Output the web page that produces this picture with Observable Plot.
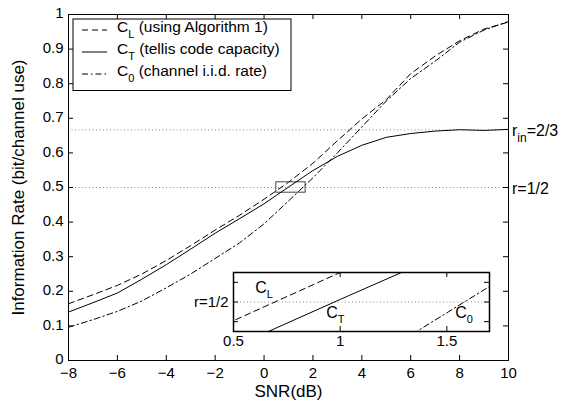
<!DOCTYPE html>
<html><head><meta charset="utf-8">
<script src="https://cdn.jsdelivr.net/npm/d3@7"></script>
<script src="https://cdn.jsdelivr.net/npm/@observablehq/plot@0.6"></script>
<style>
body{margin:0;background:#fff}
#chart{position:relative;width:566px;height:403px;overflow:hidden}
#chart svg{position:absolute}
</style>
</head><body><div id="chart"></div>
<script>
// ---- data ----
const snr = [-8,-7,-6,-5,-4,-3,-2,-1,0,1,2,3,4,5,6,7,8,9,10];
const cL  = [0.164,0.19,0.217,0.25,0.289,0.332,0.377,0.42,0.466,0.515,0.57,0.635,0.698,0.754,0.829,0.88,0.924,0.958,0.978];
const cT  = [0.14,0.167,0.195,0.235,0.277,0.322,0.368,0.41,0.4529,0.5013,0.549,0.59,0.622,0.645,0.656,0.663,0.667,0.665,0.668];
const c0  = [0.096,0.118,0.142,0.172,0.21,0.25,0.295,0.34,0.395,0.461,0.528,0.60,0.675,0.75,0.815,0.865,0.92,0.955,0.98];
const xTicks = [-8,-6,-4,-2,0,2,4,6,8,10];
const yTicks = [0,0.1,0.2,0.3,0.4,0.5,0.6,0.7,0.8,0.9,1];
const rateLines = [2/3, 1/2];
const zoomBox = {x1:0.5, x2:1.7, y1:0.485, y2:0.515};
const insetXTicks = [0.5,1,1.5];
const insetYTicks = [0.49,0.5,0.51];
const legendItems = [
  {c:"C", sub:"L", rest:" (using Algorithm 1)"},
  {c:"C", sub:"T", rest:" (tellis code capacity)"},
  {c:"C", sub:"0", rest:" (channel i.i.d. rate)"}
];
const insetLabels = [
  {c:"C", sub:"L", x:0.6045, y:0.50417},
  {c:"C", sub:"T", x:0.937, y:0.49146},
  {c:"C", sub:"0", x:1.542, y:0.49146}
];

// ---- styles ----
const font = "'Liberation Sans', Arial, Helvetica, sans-serif";
const dashes = ["6,4", null, "6,3,1.5,3"];
const series = [cL, cT, c0];
const W = 566, H = 403, mL = 68, mR = 58, mT = 14, mB = 43;
const fw = W - mL - mR, fh = H - mT - mB, tk = 5;
const fmtX = d => d < 0 ? "\u2212" + (-d) : String(d);
const fmtY = d => String(+d.toFixed(1));

const lineMarks = (clip) => series.map((vals, k) =>
  Plot.line(snr, {x: d => d, y: (d, i) => vals[i], stroke: "black", strokeWidth: 1,
    strokeDasharray: dashes[k], clip}));

const main = Plot.plot({
  width: W, height: H, marginLeft: mL, marginRight: mR, marginTop: mT, marginBottom: mB,
  style: {fontFamily: font, fontSize: "15px", color: "black", background: "white"},
  x: {domain: [-8, 10]}, y: {domain: [0, 1]},
  marks: [
    Plot.ruleY(rateLines, {y: d => d, stroke: "#8c8c8c", strokeDasharray: "1,2.5"}),
    Plot.rect([zoomBox], {x1: "x1", x2: "x2", y1: "y1", y2: "y2", fill: "none", stroke: "#444"}),
    ...lineMarks(false),
    Plot.ruleX(xTicks, {x: d => d, insetTop: fh - tk}),
    Plot.ruleX(xTicks, {x: d => d, insetBottom: fh - tk}),
    Plot.ruleY(yTicks, {y: d => d, insetRight: fw - tk}),
    Plot.ruleY(yTicks, {y: d => d, insetLeft: fw - tk}),
    Plot.axisX(xTicks, {tickSize: 0, tickPadding: 7, label: null, tickFormat: fmtX, fontSize: 15}),
    Plot.axisY(yTicks, {tickSize: 0, tickPadding: 5, label: null, tickFormat: fmtY, fontSize: 15, dy: -1}),
    Plot.frame({stroke: "black"}),
    Plot.text(["SNR(dB)"], {text: d => d, frameAnchor: "bottom", dy: 36, fontSize: 17}),
    Plot.text(["Information Rate (bit/channel use)"], {text: d => d, frameAnchor: "left", textAnchor: "middle", dx: -50, rotate: -90, fontSize: 17})
  ]
});

const chart = document.getElementById("chart");
main.style.left = "0px"; main.style.top = "0px";
chart.appendChild(main);

function rich(g, x, y, parts, size, subSize, subDy, anchor) {
  const t = g.append("text").attr("x", x).attr("y", y).attr("font-family", font)
    .attr("font-size", size).attr("fill", "black").attr("text-anchor", anchor || "start");
  let shifted = 0;
  parts.forEach(p => {
    const ts = t.append("tspan").text(p.t);
    if (p.sub) { ts.attr("font-size", subSize).attr("dy", subDy - shifted); shifted = subDy; }
    else if (shifted) { ts.attr("dy", -shifted); shifted = 0; }
  });
  return t;
}

const sx = main.scale("x"), sy = main.scale("y");
const gm = d3.select(main).append("g");
// right-side rate labels
rich(gm, sx.apply(10) + 4, sy.apply(2/3) + 6.5, [{t:"r"},{t:"in", sub:true},{t:"=2/3"}], 16, 12, 6);
rich(gm, sx.apply(10) + 4, sy.apply(1/2) + 6.5, [{t:"r=1/2"}], 16, 12, 6);

// legend
const lgX = mL + 5, lgY = mT + 5, lgW = 218, lgH = 71.5;
gm.append("rect").attr("x", lgX).attr("y", lgY).attr("width", lgW).attr("height", lgH)
  .attr("fill", "white").attr("stroke", "black").attr("stroke-width", 1);
legendItems.forEach((it, k) => {
  const base = lgY + 13 + k * 22;
  gm.append("line").attr("x1", lgX + 9).attr("x2", lgX + 34).attr("y1", base - 2).attr("y2", base - 2)
    .attr("stroke", "black").attr("stroke-width", 1).attr("stroke-dasharray", dashes[k]);
  rich(gm, lgX + 44, base, [{t: it.c}, {t: it.sub, sub: true}, {t: it.rest}], 15.5, 11, 6);
});

// ---- inset ----
const iML = 50, iMR = 5, iMT = 5, iMB = 22, iW = 311, iH = 86;
const ifw = iW - iML - iMR, ifh = iH - iMT - iMB;
const inset = Plot.plot({
  width: iW, height: iH, marginLeft: iML, marginRight: iMR, marginTop: iMT, marginBottom: iMB,
  style: {fontFamily: font, fontSize: "15px", color: "black", background: "transparent", overflow: "visible"},
  x: {domain: [zoomBox.x1, zoomBox.x2]}, y: {domain: [zoomBox.y1, zoomBox.y2]},
  marks: [
    Plot.frame({fill: "white", stroke: "none"}),
    Plot.ruleY([1/2], {y: d => d, stroke: "#8c8c8c", strokeDasharray: "1,2.5"}),
    ...lineMarks(true),
    Plot.ruleX(insetXTicks, {x: d => d, insetTop: ifh - tk}),
    Plot.ruleX(insetXTicks, {x: d => d, insetBottom: ifh - tk}),
    Plot.ruleY(insetYTicks, {y: d => d, insetRight: ifw - tk}),
    Plot.ruleY(insetYTicks, {y: d => d, insetLeft: ifw - tk}),
    Plot.axisX(insetXTicks, {tickSize: 0, tickPadding: 4, label: null, tickFormat: d => String(d), fontSize: 15}),
    Plot.axisY([1/2], {tickSize: 0, tickPadding: 5, label: null, tickFormat: () => "r=1/2", fontSize: 15}),
    Plot.frame({stroke: "black", strokeWidth: 1.5})
  ]
});
inset.style.left = (232.7 - iML) + "px";
inset.style.top = (272 - iMT) + "px";
chart.appendChild(inset);
const isx = inset.scale("x"), isy = inset.scale("y");
const gi = d3.select(inset).append("g");
insetLabels.forEach(l => rich(gi, isx.apply(l.x), isy.apply(l.y), [{t: l.c}, {t: l.sub, sub: true}], 16, 11, 5));
</script>
</body></html>
